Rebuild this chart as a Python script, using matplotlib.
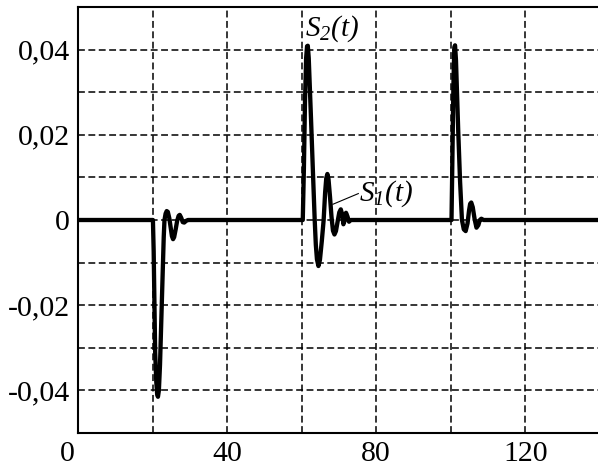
import numpy as np
import matplotlib
matplotlib.use("Agg")
import matplotlib.pyplot as plt
from matplotlib.transforms import ScaledTranslation

# pulse at t=20 (negative lobe with ringing)
t1 = [20.1, 20.3, 20.7, 21.0, 21.25, 21.45, 21.7, 22.0, 22.3, 22.7, 23.0, 23.2,
      23.5, 23.8, 24.1, 24.5, 24.9, 25.2, 25.5, 25.8, 26.2, 26.6, 27.0, 27.3,
      27.7, 28.1, 28.5, 29.0, 29.5]
v1 = [0, -0.0073, -0.031, -0.038, -0.041, -0.0415, -0.040, -0.034, -0.025, -0.013,
      -0.004, 0.0, 0.0015, 0.0021, 0.0019, 0.0004, -0.002, -0.0038, -0.0045, -0.0040,
      -0.0022, -0.0002, 0.0010, 0.0012, 0.0005, -0.0005, -0.0006, -0.0002, 0]

# S2 pulse at t=60 with S1 ringing behind it
t2 = [60.3, 60.6, 60.9, 61.2, 61.45, 61.65, 61.9, 62.5, 63.1, 63.5, 63.8, 64.1,
      64.5, 64.9, 65.4, 65.9, 66.3, 66.6, 66.9, 67.2, 67.6, 68.0, 68.4, 68.8,
      69.2, 69.6, 70.1, 70.5, 70.9, 71.2, 71.5, 71.9, 72.3, 72.7, 73.2]
v2 = [0, 0.012, 0.028, 0.038, 0.0408, 0.0409, 0.038, 0.024, 0.0095, 0.0, -0.0058,
      -0.0092, -0.0108, -0.0094, -0.005, 0.0, 0.0065, 0.0098, 0.0108, 0.0096, 0.0055,
      0.0008, -0.0025, -0.0034, -0.0026, -0.0006, 0.0018, 0.0025, 0.0012, -0.001,
      -0.0002, 0.0017, 0.0008, -0.0004, 0]

# pulse at t=100
t3 = [100.2, 100.4, 100.7, 100.95, 101.15, 101.4, 102.0, 102.5, 103.0, 103.5,
      104.0, 104.5, 104.9, 105.2, 105.5, 105.9, 106.4, 106.9, 107.4, 107.8, 108.2,
      108.8, 109.5]
v3 = [0, 0.012, 0.031, 0.0405, 0.041, 0.0375, 0.021, 0.009, 0.0, -0.0022, -0.0026,
      -0.0008, 0.0022, 0.0038, 0.0041, 0.0030, 0.0002, -0.0018, -0.0012, 0.0, 0.0003,
      0.0, 0]

t_start, t_end = 0, 139.5

x_ticks = [0, 40, 80, 120]
x_labels = ["0", "40", "80", "120"]
y_ticks = [0.04, 0.02, 0, -0.02, -0.04]
y_labels = ["0,04", "0,02", "0", "-0,02", "-0,04"]

plt.rcParams['font.family'] = ['Liberation Serif', 'DejaVu Serif']
plt.rcParams['mathtext.fontset'] = 'custom'
plt.rcParams['mathtext.rm'] = 'Liberation Serif:italic'
plt.rcParams['mathtext.it'] = 'Liberation Serif:italic'

t = np.concatenate([[t_start], t1, t2, t3, [t_end]])
s = np.concatenate([[0], v1, v2, v3, [0]])

fig = plt.figure(figsize=(5.98, 4.70), dpi=100)
ax = fig.add_axes([78 / 598, 37 / 470, 1 - 78 / 598, 426 / 470])

ax.set_xlim(t_start, t_end)
ax.set_ylim(-0.05, 0.05)

# dashed grid every 20 in t and 0.01 in amplitude
for gx in np.arange(20, 140, 20):
    ax.axvline(gx, color='black', lw=1.1, ls=(0, (4.5, 2.3)), zorder=1)
for gy in np.arange(-0.04, 0.045, 0.01):
    ax.axhline(gy, color='black', lw=1.1, ls=(0, (4.5, 2.3)), zorder=1)

ax.plot(t, s, color='black', lw=3.1, solid_joinstyle='round', zorder=3)

ax.text(61.0, 0.0449, r"$S_2(t)$", fontsize=21, va='center', ha='left', zorder=4)
ax.text(75.3, 0.0061, r"$S_1(t)$", fontsize=21, va='center', ha='left', zorder=4)
ax.plot([68.4, 75.2], [0.0037, 0.0062], color='black', lw=0.8, zorder=4)

ax.set_xticks(x_ticks)
ax.set_xticklabels(x_labels)
ax.set_yticks(y_ticks)
ax.set_yticklabels(y_labels)
ax.tick_params(length=0, labelsize=21.5)
ax.tick_params(axis='x', pad=6)
ax.tick_params(axis='y', pad=6)

# origin label sits left of the corner
lbl0 = ax.get_xticklabels()[0]
lbl0.set_transform(lbl0.get_transform() + ScaledTranslation(-0.11, 0, fig.dpi_scale_trans))

for side in ['left', 'bottom', 'top']:
    ax.spines[side].set_linewidth(1.5)
ax.spines['right'].set_visible(False)

fig.savefig("out.png", dpi=100)
